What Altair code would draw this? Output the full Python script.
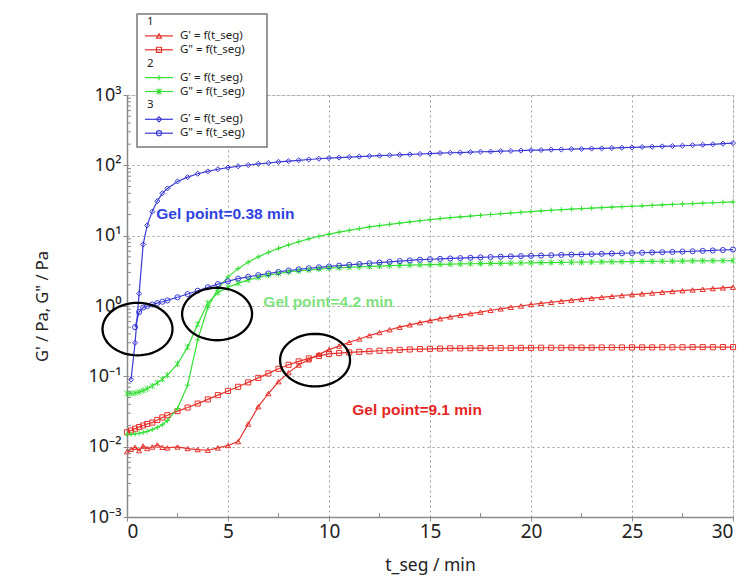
import math
import altair as alt
import pandas as pd

# ---------------- data ----------------
T = [0, 0.2, 0.4, 0.6, 0.8, 1.0, 1.25, 1.5, 1.75, 2.0,
     2.5, 3.0, 3.5, 4.0, 4.5, 5.0, 5.5, 6.0, 6.5, 7.0, 7.5, 8.0, 8.5, 9.0, 9.5, 10.0,
     10.5, 11.0, 11.5, 12.0, 12.5, 13.0, 13.5, 14.0, 14.5, 15.0, 15.5, 16.0, 16.5, 17.0,
     17.5, 18.0, 18.5, 19.0, 19.5, 20.0, 20.5, 21.0, 21.5, 22.0, 22.5, 23.0, 23.5, 24.0,
     24.5, 25.0, 25.5, 26.0, 26.5, 27.0, 27.5, 28.0, 28.5, 29.0, 29.5, 30.0]

red_gp = [0.0085, 0.0092, 0.0098, 0.0088, 0.0102, 0.0094, 0.0099, 0.0106, 0.0098, 0.0096,
          0.0099, 0.0094, 0.0091, 0.0089, 0.0096, 0.0104, 0.0118, 0.021, 0.037, 0.057,
          0.084, 0.113, 0.145, 0.172, 0.205, 0.24, 0.27, 0.305, 0.34, 0.38,
          0.42, 0.46, 0.50, 0.54, 0.58, 0.62, 0.66, 0.70, 0.74, 0.78,
          0.82, 0.87, 0.91, 0.96, 1.00, 1.05, 1.09, 1.13, 1.17, 1.21,
          1.25, 1.29, 1.33, 1.37, 1.41, 1.45, 1.49, 1.53, 1.57, 1.61,
          1.65, 1.69, 1.73, 1.77, 1.81, 1.85]
red_gpp = [0.016, 0.017, 0.018, 0.019, 0.020, 0.021, 0.022, 0.024, 0.026, 0.028,
           0.032, 0.036, 0.041, 0.047, 0.054, 0.062, 0.071, 0.082, 0.095, 0.110,
           0.128, 0.146, 0.163, 0.180, 0.195, 0.208, 0.214, 0.219, 0.223, 0.227,
           0.231, 0.234, 0.238, 0.241, 0.244, 0.246, 0.248, 0.250, 0.250, 0.251,
           0.252, 0.252, 0.253, 0.253, 0.254, 0.254, 0.255, 0.255, 0.255, 0.256,
           0.256, 0.256, 0.257, 0.257, 0.257, 0.258, 0.258, 0.258, 0.259, 0.259,
           0.259, 0.260, 0.260, 0.260, 0.261, 0.261]
green_gp = [0.015, 0.015, 0.0152, 0.0155, 0.016, 0.0165, 0.0175, 0.0188, 0.0205, 0.0235,
            0.035, 0.075, 0.33, 0.95, 1.75, 2.6, 3.4, 4.2, 5.0, 5.8,
            6.6, 7.4, 8.2, 9.0, 9.8, 10.5, 11.2, 11.9, 12.6, 13.3,
            13.9, 14.5, 15.1, 15.7, 16.3, 16.9, 17.5, 18.0, 18.5, 19.0,
            19.5, 20.0, 20.5, 21.0, 21.5, 22.0, 22.5, 23.0, 23.4, 23.8,
            24.2, 24.6, 25.0, 25.4, 25.8, 26.2, 26.6, 27.0, 27.4, 27.8,
            28.2, 28.6, 29.0, 29.4, 29.8, 30.2]
green_gpp = [0.057, 0.057, 0.058, 0.060, 0.063, 0.067, 0.073, 0.081, 0.091, 0.104,
             0.15, 0.26, 0.55, 1.1, 1.55, 1.85, 2.1, 2.35, 2.55, 2.75,
             2.9, 3.05, 3.15, 3.25, 3.35, 3.45, 3.5, 3.55, 3.6, 3.65,
             3.7, 3.74, 3.78, 3.82, 3.85, 3.88, 3.91, 3.94, 3.96, 3.99,
             4.01, 4.03, 4.05, 4.07, 4.09, 4.11, 4.13, 4.15, 4.17, 4.19,
             4.2, 4.22, 4.24, 4.25, 4.27, 4.28, 4.3, 4.31, 4.33, 4.34,
             4.35, 4.37, 4.38, 4.39, 4.4, 4.42]
blue_gp = [None, 0.09, 0.3, 1.5, 7.5, 14, 22, 31, 40, 47,
           59, 68, 76, 82, 88, 93, 97, 101, 105, 108,
           112, 115, 118, 121, 124, 127, 129, 131, 133, 135,
           137, 139, 141, 143, 145, 147, 149, 151, 152, 154,
           156, 157, 159, 160, 162, 164, 165, 167, 168, 170,
           171, 173, 174, 176, 178, 180, 182, 184, 186, 188,
           190, 193, 196, 199, 203, 207]
blue_gpp = [None, None, 0.5, 0.82, 0.95, 1.0, 1.05, 1.1, 1.15, 1.2,
            1.33, 1.48, 1.65, 1.85, 2.05, 2.25, 2.45, 2.6, 2.75, 2.9,
            3.05, 3.2, 3.32, 3.44, 3.55, 3.65, 3.75, 3.85, 3.95, 4.05,
            4.15, 4.25, 4.35, 4.45, 4.55, 4.62, 4.68, 4.74, 4.8, 4.86,
            4.92, 4.97, 5.02, 5.07, 5.12, 5.17, 5.22, 5.27, 5.32, 5.37,
            5.42, 5.47, 5.52, 5.57, 5.62, 5.67, 5.72, 5.77, 5.82, 5.88,
            5.94, 6.0, 6.08, 6.16, 6.25, 6.35]

series_names = ["1 G'", '1 G"', "2 G'", '2 G"', "3 G'", '3 G"']
series_values = [red_gp, red_gpp, green_gp, green_gpp, blue_gp, blue_gpp]

x_ticks = [0, 5, 10, 15, 20, 25, 30]
x_minor = [2.5, 7.5, 12.5, 17.5, 22.5, 27.5]
y_ticks = [0.001, 0.01, 0.1, 1, 10, 100, 1000]
y_minor = [m * 10 ** k for k in range(-3, 3) for m in range(2, 10)]

ann_t = [1.45, 6.75, 11.15]
ann_v = [20.0, 1.13, 0.0335]
ann_text = ["Gel point=0.38 min", "Gel point=4.2 min", "Gel point=9.1 min"]
ann_color = ["#2f43e0", "#7fe27f", "#e5261f"]

ell_t = [0.52, 4.46, 9.31]
ell_v = [0.47, 0.77, 0.17]

legend_rows = ["1", "G' = f(t_seg)", 'G" = f(t_seg)', "2", "G' = f(t_seg)", 'G" = f(t_seg)',
               "3", "G' = f(t_seg)", 'G" = f(t_seg)']

# ---------------- styles ----------------
RED, GREEN, BLUE = "#e8302a", "#33e033", "#3a3ad6"
colors = [RED, RED, GREEN, GREEN, BLUE, BLUE]
plus_path = "M -1 0 L 1 0 M 0 -1 L 0 1"
star_path = "M -1 -1 L 1 1 M -1 1 L 1 -1 M 0 -1.2 L 0 1.2"
shapes = ["triangle-up", "square", plus_path, star_path, "diamond", "circle"]
FONT = "Noto Sans"

rows = []
for name, vals in zip(series_names, series_values):
    for t, v in zip(T, vals):
        if v is not None:
            rows.append({"t": t, "v": v, "s": name})
df = pd.DataFrame(rows)

W, H = 606, 422
xs = alt.Scale(domain=[0, 30], nice=False, zero=False)
ys = alt.Scale(type="log", domain=[0.001, 1000], nice=False)
cs = alt.Scale(domain=series_names, range=colors)
ss = alt.Scale(domain=series_names, range=shapes)

sup = "['\u207b\u00b3','\u207b\u00b2','\u207b\u00b9','\u2070','\u00b9','\u00b2','\u00b3']"
label_expr = "'10' + " + sup + "[round(log(datum.value)/LN10)+3]"

x_axis = alt.Axis(values=x_ticks, grid=True, gridDash=[2, 3], gridColor="#a0a0a0",
                  domainColor="#8a8a8a", domainWidth=1.5, tickColor="#8a8a8a", tickSize=4,
                  labelFontSize=19, labelFont=FONT, labelColor="#222", labelPadding=1,
                  title="t_seg / min", titleFontSize=17.5, titleFont=FONT, titleFontWeight="normal",
                  titleColor="#222", titleY=48, titleBaseline="middle")
y_axis = alt.Axis(values=y_ticks, grid=True, gridDash=[2, 3], gridColor="#a0a0a0",
                  domainColor="#8a8a8a", domainWidth=1.5, tickColor="#8a8a8a", tickSize=4,
                  labelExpr=label_expr, labelFontSize=18, labelFont=FONT, labelColor="#222",
                  labelPadding=2, title='G\' / Pa, G" / Pa', titleFontSize=16.5, titleFont=FONT,
                  titleFontWeight="normal", titleColor="#222", titleX=-85, titleY=H / 2,
                  titleBaseline="middle", titleAngle=270)

X = lambda f="t:Q": alt.X(f, scale=xs, axis=x_axis)
Y = lambda f="v:Q": alt.Y(f, scale=ys, axis=y_axis)

lines = alt.Chart(df).mark_line(strokeWidth=1.2).encode(
    x=X(), y=Y(),
    color=alt.Color("s:N", scale=cs, legend=None),
    order="t:Q",
)
points = alt.Chart(df).mark_point(filled=False, size=26, strokeWidth=1, opacity=1).encode(
    x=X(), y=Y(),
    color=alt.Color("s:N", scale=cs, legend=None),
    shape=alt.Shape("s:N", scale=ss, legend=None),
)

one = pd.DataFrame({"k": [0]})
ytick_df = pd.DataFrame({"v": y_minor})
xtick_df = pd.DataFrame({"t": x_minor})
yminor = alt.Chart(ytick_df).mark_rule(color="#8a8a8a", strokeWidth=1).encode(
    y=Y(), x=alt.value(0), x2=alt.value(4))
xminor = alt.Chart(xtick_df).mark_rule(color="#8a8a8a", strokeWidth=1).encode(
    x=X(), y=alt.value(H), y2=alt.value(H - 4))

ann_df = pd.DataFrame({"t": ann_t, "v": ann_v, "txt": ann_text, "c": ann_color})
ann = alt.Chart(ann_df).mark_text(align="left", baseline="middle", fontSize=15.5,
                                  fontWeight="bold", font="Liberation Sans").encode(
    x=X(), y=Y(), text="txt:N", color=alt.Color("c:N", scale=None))

pts = []
for i in range(60):
    a = 2 * math.pi * i / 60
    pts.append(f"{math.cos(a):.4f} {0.75 * math.sin(a):.4f}")
ellipse_path = "M " + " L ".join(pts) + " Z"
ell_df = pd.DataFrame({"t": ell_t, "v": ell_v})
ells = alt.Chart(ell_df).mark_point(shape=ellipse_path, size=4900, filled=False,
                                    stroke="black", strokeWidth=2.3, opacity=1).encode(
    x=X(), y=Y())

# ---------------- legend box ----------------
LX0, LX1, LY0, LY1 = 10, 140, -81, 52
legend_layers = [alt.Chart(one).mark_rect(fill="white", stroke="#7a7a7a", strokeWidth=1.5).encode(
    x=alt.value(LX0), x2=alt.value(LX1), y=alt.value(LY0), y2=alt.value(LY1))]
row_y0, row_dy = -73, 13.9
LFS = 11.5
si = 0
for i, lab in enumerate(legend_rows):
    yy = row_y0 + i * row_dy
    if lab in ("1", "2", "3"):
        legend_layers.append(alt.Chart(one).mark_text(
            align="left", baseline="middle", fontSize=LFS, font=FONT, color="#222").encode(
            x=alt.value(20), y=alt.value(yy), text=alt.value(lab)))
    else:
        col, shp = colors[si], shapes[si]
        legend_layers.append(alt.Chart(one).mark_rule(color=col, strokeWidth=1.2).encode(
            x=alt.value(18), x2=alt.value(46), y=alt.value(yy)))
        legend_layers.append(alt.Chart(one).mark_point(
            shape=shp, size=26, filled=False, color=col, strokeWidth=1.1, opacity=1).encode(
            x=alt.value(32), y=alt.value(yy)))
        legend_layers.append(alt.Chart(one).mark_text(
            align="left", baseline="middle", fontSize=LFS, font=FONT, color="#222").encode(
            x=alt.value(53), y=alt.value(yy), text=alt.value(lab)))
        si += 1

chart = alt.layer(lines, points, yminor, xminor, ann, ells, *legend_layers).properties(
    width=W, height=H,
    padding={"left": 127, "top": 95, "right": 12, "bottom": 61},
    autosize=alt.AutoSizeParams(type="none"),
).configure_view(stroke=None).configure(background="white")

chart.save("out.html", embed_options={"renderer": "svg", "actions": False})
